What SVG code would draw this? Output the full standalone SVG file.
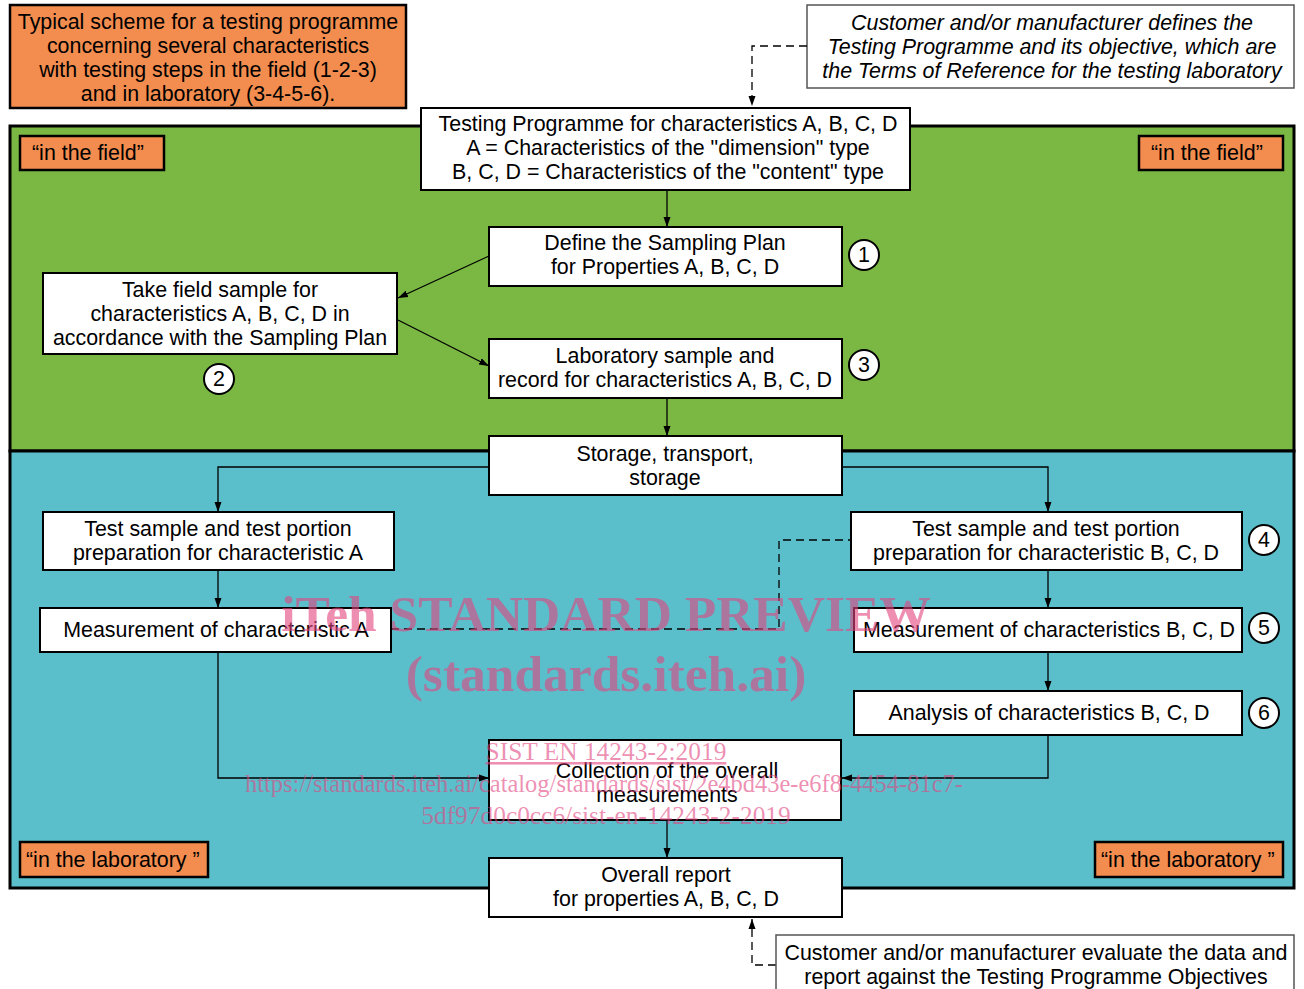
<svg xmlns="http://www.w3.org/2000/svg" width="1304" height="989" viewBox="0 0 1304 989">
<defs>
<marker id="ah" viewBox="0 0 10 10" refX="10" refY="5" markerWidth="10" markerHeight="10" markerUnits="userSpaceOnUse" orient="auto">
<path d="M0,1.5 L10,5 L0,8.5 Z" fill="#000"/>
</marker>
<style>
.t{font-family:"Liberation Sans",Arial,sans-serif;font-size:21.4px;fill:#000;text-anchor:middle}
.ti{font-family:"Liberation Sans",Arial,sans-serif;font-size:21.4px;font-style:italic;fill:#000;text-anchor:middle}
.tl{font-family:"Liberation Sans",Arial,sans-serif;font-size:21.4px;fill:#000}
.box{fill:#fff;stroke:#000;stroke-width:2}
.org{fill:#F28D4F;stroke:#000;stroke-width:2.5}
.circ{fill:#fff;stroke:#000;stroke-width:2}
.c{fill:none;stroke:#000;stroke-width:1.3}
.d{fill:none;stroke:#000;stroke-width:1.3;stroke-dasharray:8,5}
.wm{font-family:"Liberation Serif","Times New Roman",serif;fill:#E2457F;fill-opacity:0.6;text-anchor:middle}
</style>
</defs>

<g id="zones">
<rect x="10" y="126" width="1284" height="325" fill="#7AB843" stroke="#000" stroke-width="3"/>
<rect x="10" y="451" width="1284" height="437" fill="#5BBFCB" stroke="#000" stroke-width="3"/>
</g>

<g id="title">
<rect class="org" x="10" y="5" width="396" height="103"/>
<text class="t" x="208" y="29">Typical scheme for a testing programme</text>
<text class="t" x="208" y="53">concerning several characteristics</text>
<text class="t" x="208" y="77">with testing steps in the field (1-2-3)</text>
<text class="t" x="208" y="101">and in laboratory (3-4-5-6).</text>
</g>

<g id="customer-defines">
<rect x="807" y="5" width="487" height="83" fill="#fff" stroke="#555" stroke-width="1.5"/>
<text class="ti" x="1052" y="30">Customer and/or manufacturer defines the</text>
<text class="ti" x="1052" y="54">Testing Programme and its objective, which are</text>
<text class="ti" x="1052" y="78">the Terms of Reference for the testing laboratory</text>
</g>

<g id="label-field-left">
<rect class="org" x="20" y="136" width="144" height="34"/>
<text class="tl" x="32" y="160">“in the field”</text>
</g>
<g id="label-field-right">
<rect class="org" x="1139" y="136" width="144" height="34"/>
<text class="tl" x="1151" y="160">“in the field”</text>
</g>
<g id="label-lab-left">
<rect class="org" x="20" y="842" width="188" height="35"/>
<text class="tl" x="26" y="867">“in the laboratory ”</text>
</g>
<g id="label-lab-right">
<rect class="org" x="1095" y="842" width="188" height="35"/>
<text class="tl" x="1101" y="867">“in the laboratory ”</text>
</g>

<g id="connectors">
<path class="d" d="M807,46 H752 V106" marker-end="url(#ah)"/>
<path class="c" d="M667,190 V227" marker-end="url(#ah)"/>
<path class="c" d="M489,256 L398,298" marker-end="url(#ah)"/>
<path class="c" d="M398,320 L489,366" marker-end="url(#ah)"/>
<path class="c" d="M667,398 V436" marker-end="url(#ah)"/>
<path class="c" d="M489,467 H218 V512" marker-end="url(#ah)"/>
<path class="c" d="M842,467 H1048 V512" marker-end="url(#ah)"/>
<path class="c" d="M218,570 V608" marker-end="url(#ah)"/>
<path class="c" d="M1048,570 V608" marker-end="url(#ah)"/>
<path class="c" d="M1048,652 V691" marker-end="url(#ah)"/>
<path class="c" d="M1048,735 V778 H842" marker-end="url(#ah)"/>
<path class="c" d="M218,652 V778 H489" marker-end="url(#ah)"/>
<path class="c" d="M667,820 V858" marker-end="url(#ah)"/>
<path class="d" d="M391,629 H779 V540 H851"/>
<path class="d" d="M776,965 H752 V919" marker-end="url(#ah)"/>
</g>

<g id="testing-programme">
<rect class="box" x="421" y="108" width="489" height="82"/>
<text class="t" x="668" y="131">Testing Programme for characteristics A, B, C, D</text>
<text class="t" x="668" y="155">A = Characteristics of the "dimension" type</text>
<text class="t" x="668" y="179">B, C, D = Characteristics of the "content" type</text>
</g>

<g id="sampling-plan">
<rect class="box" x="489" y="227" width="353" height="59"/>
<text class="t" x="665" y="250">Define the Sampling Plan</text>
<text class="t" x="665" y="274">for Properties A, B, C, D</text>
<circle class="circ" cx="864" cy="255" r="15"/>
<text class="t" x="864" y="262">1</text>
</g>

<g id="field-sample">
<rect class="box" x="43" y="273" width="354" height="81"/>
<text class="t" x="220" y="297">Take field sample for</text>
<text class="t" x="220" y="321">characteristics A, B, C, D in</text>
<text class="t" x="220" y="345">accordance with the Sampling Plan</text>
<circle class="circ" cx="219" cy="379" r="15"/>
<text class="t" x="219" y="386">2</text>
</g>

<g id="lab-sample">
<rect class="box" x="489" y="339" width="353" height="59"/>
<text class="t" x="665" y="363">Laboratory sample and</text>
<text class="t" x="665" y="387">record for characteristics A, B, C, D</text>
<circle class="circ" cx="864" cy="365" r="15"/>
<text class="t" x="864" y="372">3</text>
</g>

<g id="storage">
<rect class="box" x="489" y="436" width="353" height="59"/>
<text class="t" x="665" y="461">Storage, transport,</text>
<text class="t" x="665" y="485">storage</text>
</g>

<g id="prep-a">
<rect class="box" x="43" y="512" width="351" height="58"/>
<text class="t" x="218" y="536">Test sample and test portion</text>
<text class="t" x="218" y="560">preparation for characteristic A</text>
</g>

<g id="meas-a">
<rect class="box" x="40" y="608" width="351" height="44"/>
<text class="t" x="216" y="637">Measurement of characteristic A</text>
</g>

<g id="prep-bcd">
<rect class="box" x="851" y="512" width="391" height="58"/>
<text class="t" x="1046" y="536">Test sample and test portion</text>
<text class="t" x="1046" y="560">preparation for characteristic B, C, D</text>
<circle class="circ" cx="1264" cy="540" r="15"/>
<text class="t" x="1264" y="547">4</text>
</g>

<g id="meas-bcd">
<rect class="box" x="854" y="608" width="388" height="44"/>
<text class="t" x="1049" y="637">Measurement of characteristics B, C, D</text>
<circle class="circ" cx="1264" cy="628" r="15"/>
<text class="t" x="1264" y="635">5</text>
</g>

<g id="analysis-bcd">
<rect class="box" x="854" y="691" width="388" height="44"/>
<text class="t" x="1049" y="720">Analysis of characteristics B, C, D</text>
<circle class="circ" cx="1264" cy="713" r="15"/>
<text class="t" x="1264" y="720">6</text>
</g>

<g id="collection">
<rect class="box" x="489" y="740" width="352" height="80"/>
<text class="t" x="667" y="778">Collection of the overall</text>
<text class="t" x="667" y="802">measurements</text>
</g>

<g id="overall-report">
<rect class="box" x="489" y="858" width="353" height="59"/>
<text class="t" x="666" y="882">Overall report</text>
<text class="t" x="666" y="906">for properties A, B, C, D</text>
</g>

<g id="customer-evaluates">
<rect x="776" y="935" width="518" height="60" fill="#fff" stroke="#555" stroke-width="1.5"/>
<text class="t" x="1036" y="960">Customer and/or manufacturer evaluate the data and</text>
<text class="t" x="1036" y="984">report against the Testing Programme Objectives</text>
</g>

<g id="watermark">
<text class="wm" x="606" y="631" font-size="51.5" font-weight="bold">iTeh STANDARD PREVIEW</text>
<text class="wm" x="606" y="691" font-size="51.5" font-weight="bold">(standards.iteh.ai)</text>
<text class="wm" x="606" y="760" font-size="25.4" text-decoration="underline">SIST EN 14243-2:2019</text>
<text class="wm" x="604" y="792" font-size="25.4" textLength="718" lengthAdjust="spacingAndGlyphs">https://standards.iteh.ai/catalog/standards/sist/2e4bd43e-e6f8-4454-81c7-</text>
<text class="wm" x="606" y="824" font-size="25.4">5df97d0c0cc6/sist-en-14243-2-2019</text>
</g>
</svg>
